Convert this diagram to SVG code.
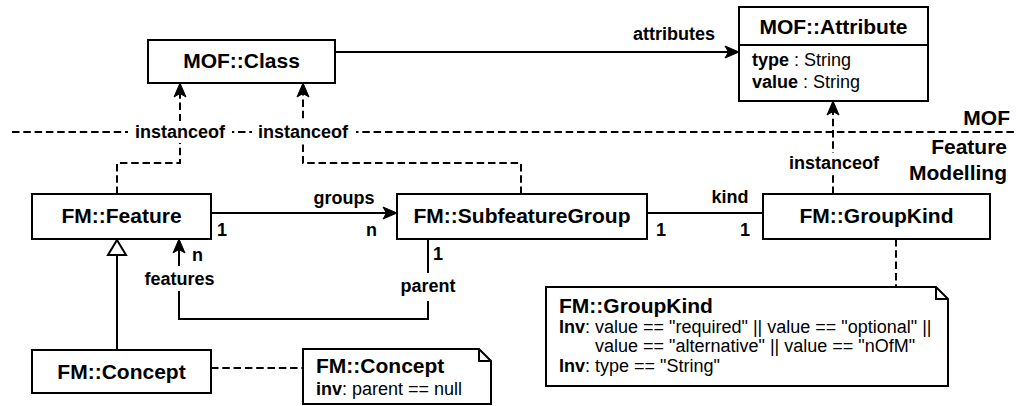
<svg xmlns="http://www.w3.org/2000/svg" width="1016" height="406" viewBox="0 0 1016 406">
  <style>
    text { font-family: "Liberation Sans", Arial, Helvetica, sans-serif; fill: #000; }
    .title { font-size: 21px; font-weight: bold; text-anchor: middle; }
    .ntitle { font-size: 21px; font-weight: bold; }
    .lbl { font-size: 18px; font-weight: bold; }
    .mid { text-anchor: middle; }
    .end { text-anchor: end; }
    .body { font-size: 18px; }
    .b { font-weight: bold; }
    .box { fill: #fff; stroke: #000; stroke-width: 2; }
    .ln { fill: none; stroke: #000; stroke-width: 2; }
    .dash { fill: none; stroke: #000; stroke-width: 2; stroke-dasharray: 7.5 3.8; }
    .bg { fill: #fff; stroke: none; }
  </style>
  <defs>
    <marker id="arrow" markerUnits="userSpaceOnUse" markerWidth="15" markerHeight="12" refX="4" refY="6" orient="auto" overflow="visible">
      <path d="M0,0 L14,6 L0,12 L3.5,6 Z" fill="#000" stroke="#000" stroke-width="1"/>
    </marker>
  </defs>

  <rect width="1016" height="406" fill="#fff"/>

  <!-- layer separator between MOF and Feature Modelling -->
  <g id="layer-separator">
    <line class="dash" x1="12" y1="132" x2="1016" y2="132"/>
    <text class="ntitle end" x="1010" y="125">MOF</text>
    <text class="ntitle end" x="1007" y="154">Feature</text>
    <text class="ntitle end" x="1007" y="180">Modelling</text>
  </g>

  <g id="connectors">
    <!-- attributes association -->
    <line class="ln" x1="335" y1="52" x2="729" y2="52" marker-end="url(#arrow)"/>
    <text class="lbl end" x="715" y="40">attributes</text>

    <!-- instanceof: FM::Feature -> MOF::Class -->
    <path class="dash" d="M117,194 V163 H180 V93" marker-end="url(#arrow)"/>
    <!-- instanceof: FM::SubfeatureGroup -> MOF::Class -->
    <path class="dash" d="M521,194 V163 H303 V93" marker-end="url(#arrow)"/>
    <rect class="bg" x="128" y="121" width="104" height="22"/>
    <rect class="bg" x="252" y="121" width="104" height="22"/>
    <text class="lbl mid" x="180" y="138">instanceof</text>
    <text class="lbl mid" x="303" y="138">instanceof</text>

    <!-- instanceof: FM::GroupKind -> MOF::Attribute -->
    <line class="dash" x1="833" y1="194" x2="833" y2="111" marker-end="url(#arrow)"/>
    <rect class="bg" x="784" y="153" width="100" height="22"/>
    <text class="lbl mid" x="834" y="169">instanceof</text>

    <!-- groups association -->
    <line class="ln" x1="211" y1="213" x2="387" y2="213" marker-end="url(#arrow)"/>
    <text class="lbl mid" x="344" y="204">groups</text>
    <text class="lbl" x="217" y="236">1</text>
    <text class="lbl" x="366" y="236">n</text>

    <!-- kind association -->
    <line class="ln" x1="647" y1="213" x2="763" y2="213"/>
    <text class="lbl mid" x="730" y="203">kind</text>
    <text class="lbl" x="656" y="236">1</text>
    <text class="lbl" x="740" y="236">1</text>

    <!-- parent / features association -->
    <path class="ln" d="M428,239 V319 H179 V249" marker-end="url(#arrow)"/>
    <rect class="bg" x="398" y="273" width="60" height="28"/>
    <rect class="bg" x="141" y="266" width="77" height="25"/>
    <text class="lbl mid" x="428" y="292">parent</text>
    <text class="lbl mid" x="179.5" y="285">features</text>
    <text class="lbl" x="433" y="260">1</text>
    <text class="lbl" x="192" y="261">n</text>

    <!-- generalization: FM::Concept -> FM::Feature -->
    <line class="ln" x1="117" y1="350" x2="117" y2="255"/>
    <polygon points="117,240 126,255 108,255" fill="#fff" stroke="#000" stroke-width="2"/>

    <!-- note anchors -->
    <line class="dash" x1="211" y1="368" x2="303" y2="368"/>
    <line class="dash" x1="896" y1="239" x2="896" y2="287"/>
  </g>

  <g id="mof-class">
    <rect class="box" x="148" y="40" width="187" height="43"/>
    <text class="title" x="241.5" y="68">MOF::Class</text>
  </g>

  <g id="mof-attribute">
    <rect class="box" x="739" y="7" width="189" height="94"/>
    <line class="ln" x1="739" y1="45" x2="928" y2="45"/>
    <text class="title" x="833.5" y="34">MOF::Attribute</text>
    <text class="body" x="752" y="66"><tspan class="b">type</tspan> : String</text>
    <text class="body" x="752" y="88"><tspan class="b">value</tspan> : String</text>
  </g>

  <g id="fm-feature">
    <rect class="box" x="32" y="194" width="179" height="45"/>
    <text class="title" x="121.5" y="223">FM::Feature</text>
  </g>

  <g id="fm-subfeaturegroup">
    <rect class="box" x="397" y="194" width="250" height="45"/>
    <text class="title" x="522" y="223">FM::SubfeatureGroup</text>
  </g>

  <g id="fm-groupkind">
    <rect class="box" x="763" y="194" width="227" height="45"/>
    <text class="title" x="876.5" y="223">FM::GroupKind</text>
  </g>

  <g id="fm-concept">
    <rect class="box" x="32" y="350" width="179" height="43"/>
    <text class="title" x="121.5" y="379">FM::Concept</text>
  </g>

  <g id="note-concept">
    <path class="box" d="M303,349 H479 L491,361 V404 H303 Z"/>
    <path class="ln" d="M479,349 V361 H491"/>
    <text class="ntitle" x="316" y="373">FM::Concept</text>
    <text class="body" x="316" y="395"><tspan class="b">inv</tspan>: parent == null</text>
  </g>

  <g id="note-groupkind">
    <path class="box" d="M546,287 H936 L948,299 V386 H546 Z"/>
    <path class="ln" d="M936,287 V299 H948"/>
    <text class="ntitle" x="559" y="313">FM::GroupKind</text>
    <text class="body" x="559" y="333"><tspan class="b">Inv</tspan>: value == "required" || value == "optional" ||</text>
    <text class="body" x="595" y="352">value == "alternative" || value == "nOfM"</text>
    <text class="body" x="559" y="372"><tspan class="b">Inv</tspan>: type == "String"</text>
  </g>
</svg>
